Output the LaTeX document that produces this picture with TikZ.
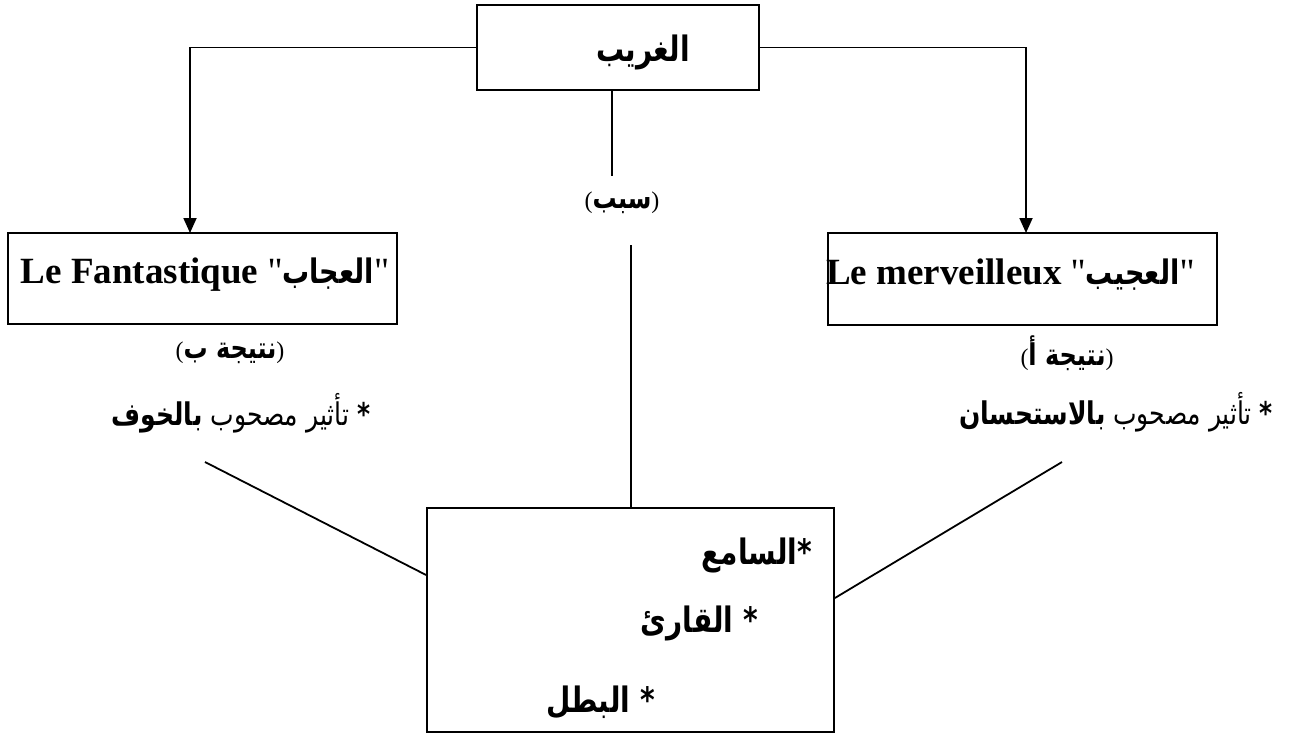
\documentclass[tikz,border=0pt]{standalone}
\usepackage{fontspec}
\setmainfont{Liberation Serif}
\newfontfamily\qfont{Liberation Serif}
\newfontfamily\ar[Script=Arabic]{DejaVu Sans}
\TeXXeTstate=1
\newcommand\tallar[1]{\scalebox{1}[1.25]{#1}}
\usetikzlibrary{arrows.meta,calc}
\begin{document}
\begin{tikzpicture}[x=1pt,y=-1pt,
  boxstyle/.style={draw, line width=1.8pt, inner sep=0pt},
  conn/.style={line width=1.8pt},
  arr/.style={conn, -{Triangle[length=15pt,width=13pt]}},
  txt/.style={inner sep=0pt},
  big/.style={font=\fontsize{37}{42}\selectfont\bfseries},
  arbig/.style={font=\fontsize{28}{32}\selectfont\ar\bfseries},
  armid/.style={font=\fontsize{25}{30}\selectfont\ar},
  arres/.style={font=\fontsize{24}{28}\selectfont\ar}]
\useasboundingbox (0,0) rectangle (1296,736);
% boxes
\node[boxstyle, minimum width=282pt, minimum height=85pt] (top) at (618,47.5) {};
\node[boxstyle, minimum width=389pt, minimum height=91pt] (left) at (202.5,278.5) {};
\node[boxstyle, minimum width=389pt, minimum height=92pt] (right) at (1022.5,279) {};
\node[boxstyle, minimum width=407pt, minimum height=224pt] (bottom) at (630.5,620) {};
% box texts
\node[txt, arbig] (toptext) at (643,52) {\tallar{\beginR الغريب\endR}};
\node[txt, big] (lefttext) at (205,275) {Le Fantastique {\mdseries\qfont"}{\fontsize{27}{30}\selectfont\ar\tallar{\beginR العجاب\endR}}{\mdseries\qfont"}};
\node[txt, big, anchor=west] (righttext) at (826,275) {Le merveilleux {\mdseries\qfont"}{\fontsize{27}{30}\selectfont\ar\tallar{\beginR العجيب\endR}}{\mdseries\qfont"}};
\node[txt, arbig, anchor=east] (b1) at (812,555) {\tallar{\beginR *السامع\endR}};
\node[txt, arbig, anchor=east] (b2) at (758,623) {\tallar{\beginR * القارئ\endR}};
\node[txt, arbig, anchor=east] (b3) at (655,702) {\tallar{\beginR * البطل\endR}};
% free labels
\node[txt, arres] (sabab) at (622,203) {{\qfont(}{\bfseries\tallar{\beginR سبب\endR}}{\qfont)}};
\node[txt, arres] (resb) at (230,353) {{\qfont(}{\bfseries\tallar{\beginR نتيجة ب\endR}}{\qfont)}};
\node[txt, arres] (resa) at (1067,353) {{\qfont(}{\bfseries\tallar{\beginR نتيجة أ\endR}}{\qfont)}};
\node[txt, armid] (effb) at (241,413) {\tallar{\beginR{\bfseries *} تأثير مصحوب {\bfseries بالخوف}\endR}};
\node[txt, armid] (effa) at (1116,412) {\tallar{\beginR{\bfseries *} تأثير مصحوب {\bfseries بالاستحسان}\endR}};
% connectors
\coordinate (la) at (190,233);
\coordinate (ra) at (1026,233);
\draw[arr] (top.west) -| (la);
\draw[arr] (top.east) -| (ra);
\coordinate (c1) at (612,176);
\coordinate (c2) at (631,245);
\draw[conn] (top.south -| c1) -- (c1);
\draw[conn] (c2) -- (bottom.north -| c2);
\coordinate (dl) at (205,462);
\coordinate (dr) at (1062,462);
\draw[conn] (dl) -- ([yshift=45pt]bottom.west);
\draw[conn] (dr) -- ([yshift=22pt]bottom.east);
\end{tikzpicture}
\end{document}
